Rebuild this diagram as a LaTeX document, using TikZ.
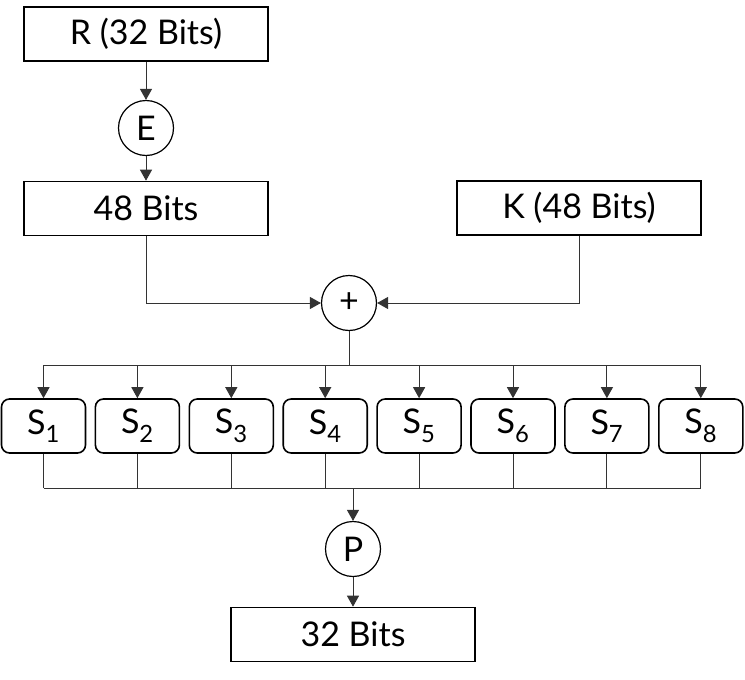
\documentclass[tikz,border=0pt]{standalone}
\usepackage{fontspec}
\setmainfont{Lato}
\usetikzlibrary{arrows.meta}
\begin{document}
\begin{tikzpicture}[x=1pt,y=-1pt,
  box/.style={draw,line width=1.6pt,minimum width=244pt,minimum height=54pt,inner sep=0pt,font=\fontsize{34}{40}\selectfont},
  sbox/.style={draw,line width=1.6pt,rounded corners=8pt,minimum width=84pt,minimum height=54pt,inner sep=0pt,font=\fontsize{34}{40}\selectfont},
  op/.style={draw,circle,line width=1.2pt,minimum size=55pt,inner sep=0pt,font=\fontsize{34}{40}\selectfont},
  conn/.style={line width=1pt,draw=black!80},
  arr/.style={conn,-{Triangle[width=12pt,length=11pt]}}]
\useasboundingbox (0,0) rectangle (745,680);
\node[box] (R) at (146,34) {R (32 Bits)};
\node[op] (E) at (146,128) {E};
\node[box] (B48) at (146,208.5) {48 Bits};
\node[box] (K) at (579,208) {K (48 Bits)};
\node[op] (X) at (349,303) {+};
\foreach \i in {1,...,8} {
  \node[sbox] (S\i) at ({43.5+93.9*(\i-1)},426) {S\textsubscript{\i}};
}
\node[op] (P) at (353,549) {P};
\node[box] (B32) at (353,634.5) {32 Bits};
\draw[arr] (R) -- (E);
\draw[arr] (E) -- (B48);
\draw[arr] (B48.south) |- (X.west);
\draw[arr] (K.south) |- (X.east);
\coordinate (top) at (349,365);
\coordinate (bot) at (353,488);
\draw[conn] (X.south) -- (top);
\draw[conn] (S1.north |- top) -- (S8.north |- top);
\foreach \i in {1,...,8} {
  \draw[arr] (S\i.north |- top) -- (S\i.north);
  \draw[conn] (S\i.south) -- (S\i.south |- bot);
}
\draw[conn] (S1.south |- bot) -- (S8.south |- bot);
\draw[arr] (bot) -- (P);
\draw[arr] (P) -- (B32);
\end{tikzpicture}
\end{document}
